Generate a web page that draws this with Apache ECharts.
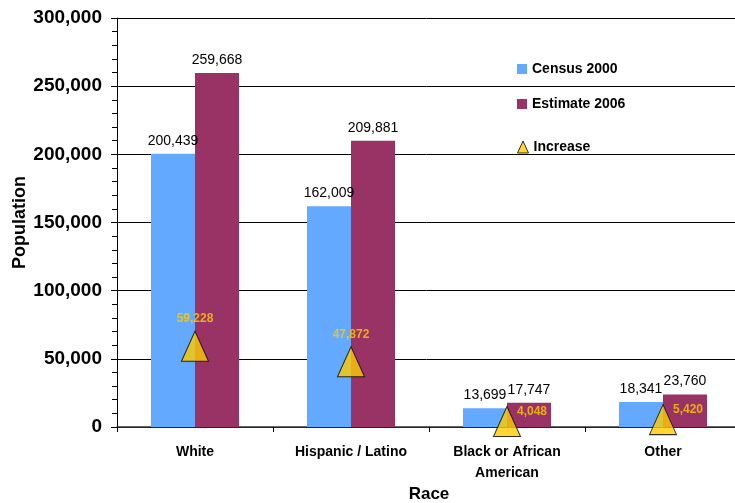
<html>
<head>
<meta charset="utf-8">
<script src="https://cdn.jsdelivr.net/npm/echarts@6/dist/echarts.min.js"></script>
</head>
<body>
<style>
  html, body, #main { width: 100%; height: 100%; margin: 0; background: #fff; }
</style>
<div id="main"></div>
<script>
var categories = ['White', 'Hispanic / Latino', 'Black or African\nAmerican', 'Other'];
var census2000 = [200439, 162009, 13699, 18341];
var estimate2006 = [259668, 209881, 17747, 23760];
var increase = [59228, 47872, 4048, 5420];

var font = '"Liberation Sans", Arial, sans-serif';
var chart = echarts.init(document.getElementById('main'));

var fmt = function (v) { return v.toLocaleString('en-US'); };
var legendText = { fontFamily: font, fontWeight: 'bold', fontSize: 14, color: '#000' };

var option = {
    animation: false,
    textStyle: { fontFamily: font },
    grid: { left: 117, width: 624, top: 18, height: 409, containLabel: false, outerBoundsMode: 'none' },
    legend: [
        {
            orient: 'vertical',
            left: 512, top: 57,
            itemGap: 21,
            itemWidth: 10, itemHeight: 10,
            textStyle: legendText,
            data: [
                { name: 'Census 2000', icon: 'rect' },
                { name: 'Estimate 2006', icon: 'rect' }
            ]
        },
        {
            orient: 'vertical',
            left: 512, top: 135,
            itemWidth: 11, itemHeight: 12,
            itemGap: 4,
            textStyle: legendText,
            data: [
                { name: 'Increase', icon: 'triangle', itemStyle: { borderColor: '#000', borderWidth: 1 } }
            ]
        }
    ],
    xAxis: {
        type: 'category',
        data: categories,
        name: 'Race',
        nameLocation: 'middle',
        nameGap: 59,
        nameMoveOverlap: false,
        nameTextStyle: { fontFamily: font, fontWeight: 'bold', fontSize: 17, color: '#000' },
        axisLine: { lineStyle: { color: '#333', width: 1.5 } },
        axisTick: { show: true, length: 5, lineStyle: { color: '#000' } },
        axisLabel: { fontFamily: font, fontWeight: 'bold', fontSize: 14, color: '#000', margin: 15, lineHeight: 21, interval: 0 }
    },
    yAxis: {
        type: 'value',
        min: 0, max: 300000, interval: 50000,
        name: 'Population',
        nameLocation: 'middle',
        nameGap: 88,
        nameMoveOverlap: false,
        nameTextStyle: { fontFamily: font, fontWeight: 'bold', fontSize: 18, color: '#000' },
        axisLine: { show: true, lineStyle: { color: '#000' } },
        axisTick: { show: true, length: 6, lineStyle: { color: '#000' } },
        minorTick: { show: true, splitNumber: 5, length: 5, lineStyle: { color: '#000' } },
        splitLine: { show: true, lineStyle: { color: '#000', width: 1 } },
        axisLabel: { fontFamily: font, fontWeight: 'bold', fontSize: 19, color: '#000', margin: 15, formatter: fmt }
    },
    series: [
        {
            name: 'Census 2000', type: 'bar', data: census2000,
            barWidth: 44, barGap: '0%',
            itemStyle: { color: '#63A9FF' },
            label: { show: true, position: 'top', color: '#000', fontSize: 14, fontFamily: font, distance: 6,
                formatter: function (p) { return fmt(p.value); } }
        },
        {
            name: 'Estimate 2006', type: 'bar', data: estimate2006,
            barWidth: 44,
            itemStyle: { color: '#993366' },
            label: { show: true, position: 'top', color: '#000', fontSize: 14, fontFamily: font, distance: 6,
                formatter: function (p) { return fmt(p.value); } }
        },
        {
            name: 'Increase', type: 'scatter',
            symbol: 'triangle', symbolSize: [27, 30],
            itemStyle: { color: '#FFCC00', borderColor: '#000', borderWidth: 1 },
            data: increase.map(function (v, i) {
                var right = i >= 2;
                return {
                    value: v,
                    label: right
                        ? { position: 'right', distance: -4, offset: [0, -10] }
                        : { position: 'top', distance: 6 }
                };
            }),
            label: { show: true, color: '#FFCC00', fontWeight: 'bold', fontSize: 12, fontFamily: font,
                formatter: function (p) { return fmt(p.value); } },
            z: 5
        }
    ]
};

chart.setOption(option);
window.onresize = chart.resize;
</script>
</body>
</html>
